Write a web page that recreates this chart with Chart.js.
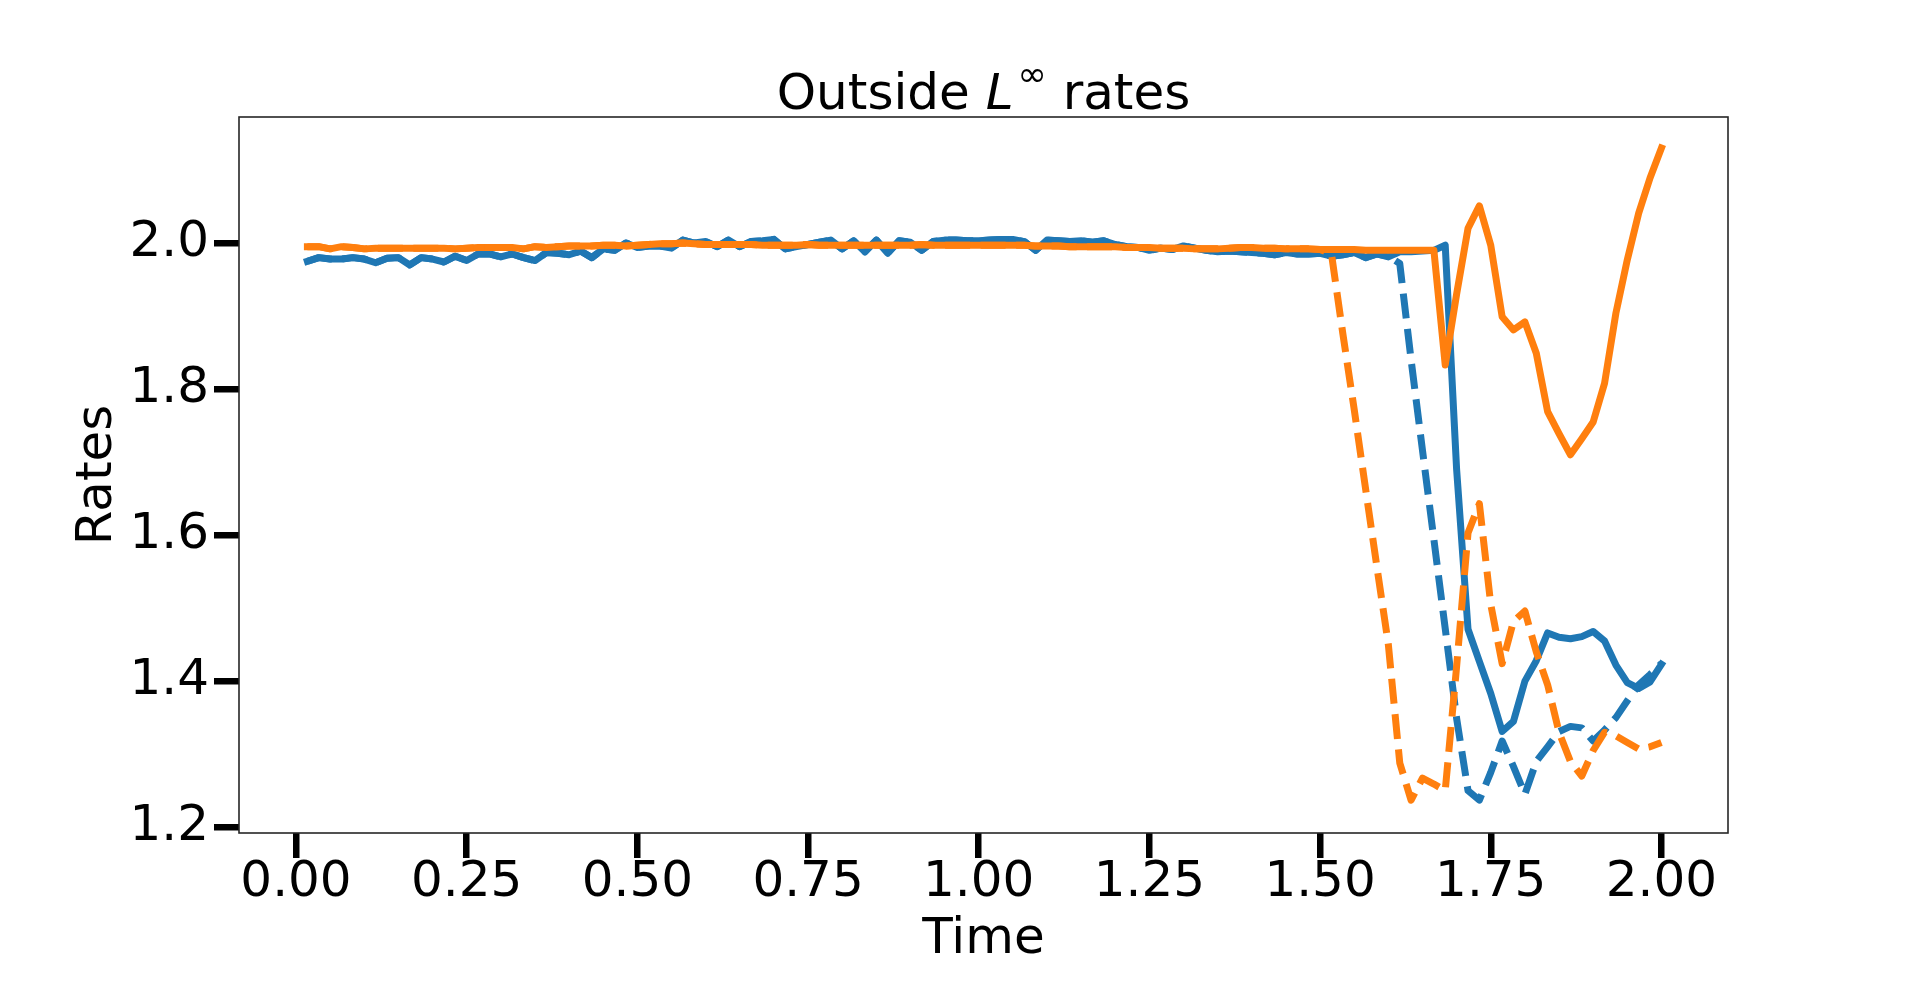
<!DOCTYPE html>
<html>
<head>
<meta charset="utf-8">
<script src="https://cdn.jsdelivr.net/npm/chart.js@4"></script>
<style>
  html, body { margin: 0; padding: 0; background: #fff; }
  #wrap { width: 1920px; height: 982px; position: relative; }
</style>
</head>
<body>
<div id="wrap"><canvas id="chart"></canvas></div>
<script>
// time grid (dt = 1/60)
const timeValues = [
  0.0167, 0.0333, 0.05, 0.0667, 0.0833, 0.1, 0.1167, 0.1333, 0.15, 0.1667,
  0.1833, 0.2, 0.2167, 0.2333, 0.25, 0.2667, 0.2833, 0.3, 0.3167, 0.3333,
  0.35, 0.3667, 0.3833, 0.4, 0.4167, 0.4333, 0.45, 0.4667, 0.4833, 0.5,
  0.5167, 0.5333, 0.55, 0.5667, 0.5833, 0.6, 0.6167, 0.6333, 0.65, 0.6667,
  0.6833, 0.7, 0.7167, 0.7333, 0.75, 0.7667, 0.7833, 0.8, 0.8167, 0.8333,
  0.85, 0.8667, 0.8833, 0.9, 0.9167, 0.9333, 0.95, 0.9667, 0.9833, 1.0,
  1.0167, 1.0333, 1.05, 1.0667, 1.0833, 1.1, 1.1167, 1.1333, 1.15, 1.1667,
  1.1833, 1.2, 1.2167, 1.2333, 1.25, 1.2667, 1.2833, 1.3, 1.3167, 1.3333,
  1.35, 1.3667, 1.3833, 1.4, 1.4167, 1.4333, 1.45, 1.4667, 1.4833, 1.5,
  1.5167, 1.5333, 1.55, 1.5667, 1.5833, 1.6, 1.6167, 1.6333, 1.65, 1.6667,
  1.6833, 1.7, 1.7167, 1.7333, 1.75, 1.7667, 1.7833, 1.8, 1.8167, 1.8333,
  1.85, 1.8667, 1.8833, 1.9, 1.9167, 1.9333, 1.95, 1.9667, 1.9833, 2.0
];

// blue, solid
const blueSolid = [
  1.975, 1.980, 1.978, 1.978, 1.980, 1.978, 1.973, 1.979, 1.980, 1.970,
  1.980, 1.978, 1.974, 1.982, 1.976, 1.985, 1.985, 1.981, 1.985, 1.980,
  1.976, 1.987, 1.986, 1.984, 1.989, 1.980, 1.992, 1.990, 2.000, 1.994,
  1.996, 1.996, 1.993, 2.004, 2.000, 2.002, 1.995, 2.004, 1.995, 2.002,
  2.003, 2.005, 1.992, 1.995, 1.998, 2.001, 2.004, 1.992, 2.003, 1.988,
  2.004, 1.986, 2.003, 2.001, 1.990, 2.002, 2.004, 2.004, 2.003, 2.003,
  2.004, 2.005, 2.005, 2.002, 1.990, 2.004, 2.003, 2.002, 2.003, 2.001,
  2.003, 1.998, 1.995, 1.994, 1.990, 1.993, 1.991, 1.996, 1.993, 1.990,
  1.988, 1.989, 1.988, 1.987, 1.986, 1.984, 1.987, 1.985, 1.985, 1.986,
  1.982, 1.984, 1.987, 1.980, 1.985, 1.981, 1.988, 1.988, 1.989, 1.990,
  1.997, 1.690, 1.471, 1.427, 1.383, 1.331, 1.345, 1.400, 1.428, 1.466,
  1.460, 1.458, 1.461, 1.468, 1.455, 1.422, 1.398, 1.390, 1.399, 1.423
];

// blue, dashed
const blueDashed = [
  1.975, 1.980, 1.978, 1.978, 1.980, 1.978, 1.973, 1.979, 1.980, 1.970,
  1.980, 1.978, 1.974, 1.982, 1.976, 1.985, 1.985, 1.981, 1.985, 1.980,
  1.976, 1.987, 1.986, 1.984, 1.989, 1.980, 1.992, 1.990, 2.000, 1.994,
  1.996, 1.996, 1.993, 2.004, 2.000, 2.002, 1.995, 2.004, 1.995, 2.002,
  2.003, 2.005, 1.992, 1.995, 1.998, 2.001, 2.004, 1.992, 2.003, 1.988,
  2.004, 1.986, 2.003, 2.001, 1.990, 2.002, 2.004, 2.004, 2.003, 2.003,
  2.004, 2.005, 2.005, 2.002, 1.990, 2.004, 2.003, 2.002, 2.003, 2.001,
  2.003, 1.998, 1.995, 1.994, 1.990, 1.993, 1.991, 1.996, 1.993, 1.990,
  1.988, 1.989, 1.988, 1.987, 1.986, 1.984, 1.987, 1.985, 1.985, 1.986,
  1.982, 1.984, 1.987, 1.980, 1.985, 1.982, 1.972, 1.840, 1.716, 1.594,
  1.472, 1.349, 1.250, 1.237, 1.275, 1.318, 1.283, 1.245, 1.290, 1.310,
  1.331, 1.338, 1.336, 1.318, 1.333, 1.350, 1.373, 1.395, 1.409, 1.424
];

// orange, solid
const orangeSolid = [
  1.995, 1.995, 1.992, 1.995, 1.994, 1.992, 1.993, 1.993, 1.993, 1.993,
  1.993, 1.993, 1.993, 1.992, 1.993, 1.994, 1.994, 1.994, 1.994, 1.992,
  1.995, 1.994, 1.995, 1.996, 1.996, 1.996, 1.997, 1.997, 1.996, 1.997,
  1.998, 1.999, 1.999, 2.000, 1.999, 1.998, 1.998, 1.998, 1.998, 1.998,
  1.997, 1.997, 1.997, 1.997, 1.998, 1.997, 1.997, 1.997, 1.997, 1.997,
  1.997, 1.997, 1.997, 1.997, 1.998, 1.997, 1.997, 1.997, 1.997, 1.997,
  1.997, 1.997, 1.997, 1.997, 1.996, 1.996, 1.996, 1.995, 1.995, 1.995,
  1.995, 1.995, 1.994, 1.994, 1.994, 1.993, 1.993, 1.993, 1.992, 1.992,
  1.992, 1.993, 1.994, 1.994, 1.993, 1.993, 1.992, 1.992, 1.992, 1.991,
  1.991, 1.991, 1.991, 1.990, 1.990, 1.990, 1.990, 1.990, 1.990, 1.990,
  1.833, 1.930, 2.020, 2.051, 1.997, 1.899, 1.881, 1.892, 1.849, 1.769,
  1.739, 1.710, 1.732, 1.755, 1.808, 1.904, 1.977, 2.041, 2.089, 2.130
];

// orange, dashed
const orangeDashed = [
  1.995, 1.995, 1.992, 1.995, 1.994, 1.992, 1.993, 1.993, 1.993, 1.993,
  1.993, 1.993, 1.993, 1.992, 1.993, 1.994, 1.994, 1.994, 1.994, 1.992,
  1.995, 1.994, 1.995, 1.996, 1.996, 1.996, 1.997, 1.997, 1.996, 1.997,
  1.998, 1.999, 1.999, 2.000, 1.999, 1.998, 1.998, 1.998, 1.998, 1.998,
  1.997, 1.997, 1.997, 1.997, 1.998, 1.997, 1.997, 1.997, 1.997, 1.997,
  1.997, 1.997, 1.997, 1.997, 1.998, 1.997, 1.997, 1.997, 1.997, 1.997,
  1.997, 1.997, 1.997, 1.997, 1.996, 1.996, 1.996, 1.995, 1.995, 1.995,
  1.995, 1.995, 1.994, 1.994, 1.994, 1.993, 1.993, 1.993, 1.992, 1.992,
  1.992, 1.993, 1.994, 1.994, 1.993, 1.993, 1.992, 1.992, 1.992, 1.991,
  1.985, 1.876, 1.772, 1.663, 1.556, 1.450, 1.288, 1.237, 1.267, 1.259,
  1.250, 1.420, 1.603, 1.643, 1.505, 1.424, 1.482, 1.496, 1.440, 1.395,
  1.330, 1.290, 1.270, 1.305, 1.330, 1.325, 1.316, 1.307, 1.310, 1.316
];

const xTickValues = [0, 0.25, 0.5, 0.75, 1.0, 1.25, 1.5, 1.75, 2.0];
const yTickValues = [1.2, 1.4, 1.6, 1.8, 2.0];

const BLUE = '#1f77b4';
const ORANGE = '#ff7f0e';
const FONT = "'DejaVu Sans', 'Liberation Sans', sans-serif";

function toPoints(values) {
  return values.map((v, i) => ({ x: timeValues[i], y: v }));
}

function lineSet(values, color, dashed, order) {
  return {
    data: toPoints(values),
    borderColor: color,
    backgroundColor: color,
    borderWidth: 7,
    borderDash: dashed ? [25, 10.5] : [],
    borderCapStyle: dashed ? 'butt' : 'square',
    borderJoinStyle: 'round',
    pointRadius: 0,
    tension: 0,
    fill: false,
    order: order
  };
}

// frame around the plot + the title with italic L and superscript infinity
const framePlugin = {
  id: 'frameAndTitle',
  afterDraw(chart) {
    const ctx = chart.ctx;
    const a = chart.chartArea;
    ctx.save();
    ctx.strokeStyle = '#262626';
    ctx.lineWidth = 1.6;
    ctx.strokeRect(a.left, a.top, a.right - a.left, a.bottom - a.top);

    const parts = [
      { text: 'Outside ', font: '50px ' + FONT, dy: 0 },
      { text: 'L', font: 'italic 50px ' + FONT, dy: 0 },
      { text: '\u221E', font: '35px ' + FONT, dy: -23, dx: 4 },
      { text: ' rates', font: '50px ' + FONT, dy: 0 }
    ];
    let total = 0;
    parts.forEach(p => {
      ctx.font = p.font;
      p.w = ctx.measureText(p.text).width + (p.dx || 0);
      total += p.w;
    });
    let x = (a.left + a.right) / 2 - total / 2;
    const baseline = 109;
    ctx.fillStyle = '#000';
    ctx.textBaseline = 'alphabetic';
    ctx.textAlign = 'left';
    parts.forEach(p => {
      ctx.font = p.font;
      ctx.fillText(p.text, x + (p.dx || 0), baseline + p.dy);
      x += p.w;
    });
    ctx.restore();
  }
};

const tickGrid = {
  drawOnChartArea: false,
  drawTicks: true,
  lineWidth: 6.5,
  tickLength: 25,
  tickWidth: 6.5,
  tickColor: '#000',
  color: '#000'
};

const ctx = document.getElementById('chart').getContext('2d');
new Chart(ctx, {
  type: 'line',
  data: {
    datasets: [
      lineSet(blueSolid, BLUE, false, 4),
      lineSet(blueDashed, BLUE, true, 3),
      lineSet(orangeSolid, ORANGE, false, 2),
      lineSet(orangeDashed, ORANGE, true, 1)
    ]
  },
  options: {
    responsive: true,
    maintainAspectRatio: false,
    animation: false,
    layout: { padding: { left: 0, right: 192, top: 117, bottom: 0 } },
    plugins: {
      legend: { display: false },
      tooltip: { enabled: false },
      title: { display: false }
    },
    scales: {
      x: {
        type: 'linear',
        min: -0.0835,
        max: 2.0975,
        afterBuildTicks: scale => { scale.ticks = xTickValues.map(v => ({ value: v })); },
        afterFit: scale => { scale.height = 149; },
        border: { display: false },
        grid: tickGrid,
        ticks: {
          color: '#000',
          padding: 0,
          maxRotation: 0,
          autoSkip: false,
          font: { family: FONT, size: 50, lineHeight: 1 },
          callback: v => Number(v).toFixed(2)
        },
        title: {
          display: true,
          text: 'Time',
          color: '#000',
          font: { family: FONT, size: 50, lineHeight: 1.2 },
          padding: { top: 0, bottom: 12 }
        }
      },
      y: {
        type: 'linear',
        min: 1.192,
        max: 2.1726,
        afterBuildTicks: scale => { scale.ticks = yTickValues.map(v => ({ value: v })); },
        afterFit: scale => { scale.width = 239; },
        border: { display: false },
        grid: tickGrid,
        ticks: {
          color: '#000',
          padding: 5,
          autoSkip: false,
          font: { family: FONT, size: 50, lineHeight: 1 },
          callback: v => Number(v).toFixed(1)
        },
        title: {
          display: true,
          text: 'Rates',
          color: '#000',
          font: { family: FONT, size: 50, lineHeight: 1.2 },
          padding: { top: 68, bottom: 0 }
        }
      }
    }
  },
  plugins: [framePlugin]
});
</script>
</body>
</html>
